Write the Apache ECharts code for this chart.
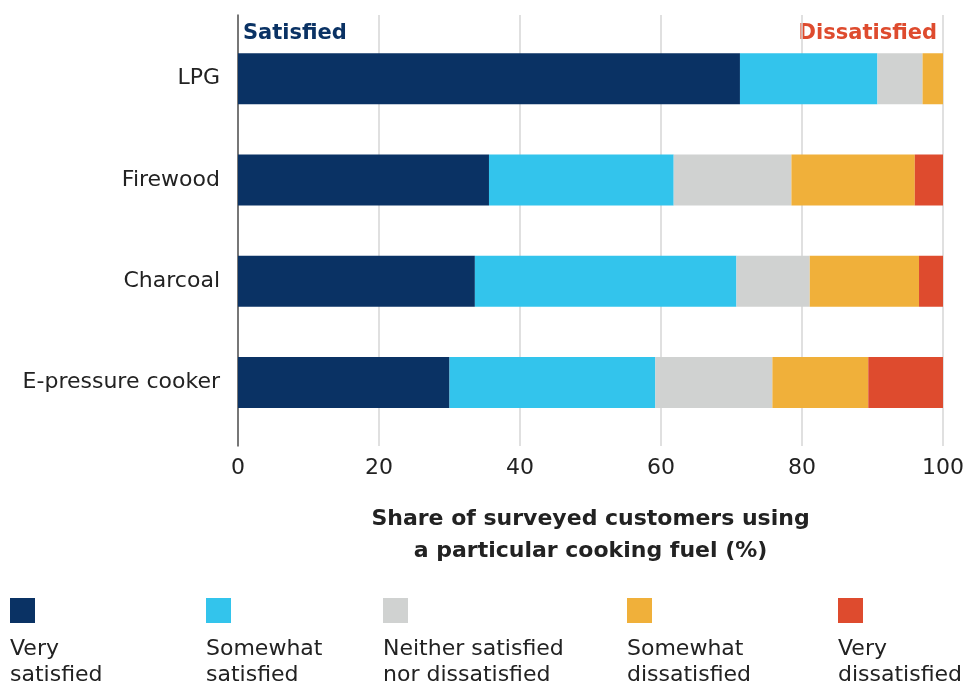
<!DOCTYPE html>
<html>
<head>
<meta charset="utf-8">
<script src="https://cdn.jsdelivr.net/npm/echarts@6/dist/echarts.min.js"></script>
<style>
html,body{margin:0;padding:0;background:#fff;}
#chart{width:973px;height:684px;}
</style>
</head>
<body>
<div id="chart"></div>
<script>
const categories = ["LPG", "Firewood", "Charcoal", "E-pressure cooker"];
const seriesNames = ["Very satisfied", "Somewhat satisfied", "Neither satisfied nor dissatisfied", "Somewhat dissatisfied", "Very dissatisfied"];
const legendLabels = ["Very\nsatisfied", "Somewhat\nsatisfied", "Neither satisfied\nnor dissatisfied", "Somewhat\ndissatisfied", "Very\ndissatisfied"];
const verySatisfied = [71.2, 35.6, 33.6, 30.0];
const somewhatSatisfied = [19.5, 26.2, 37.1, 29.2];
const neither = [6.4, 16.7, 10.4, 16.6];
const somewhatDissatisfied = [2.9, 17.5, 15.5, 13.6];
const veryDissatisfied = [0, 4.0, 3.4, 10.6];
const xTicks = [0, 20, 40, 60, 80, 100];
const colors = ["#0a3264", "#33c4ec", "#d0d2d1", "#f0b03a", "#de4b2e"];
const values = [verySatisfied, somewhatSatisfied, neither, somewhatDissatisfied, veryDissatisfied];

const FONT = "DejaVu Sans";
const chart = echarts.init(document.getElementById('chart'));

const legendX = [10, 206, 383, 627, 838];
const graphics = [
  {type:'text', left:243, top:23, style:{text:'Satisfied', font:'bold 21px ' + FONT, fill:'#0a3264'}},
  {type:'text', right:36, top:23, style:{text:'Dissatisfied', font:'bold 21px ' + FONT, fill:'#de4b2e', textAlign:'right'}}
];
seriesNames.forEach((n, i) => {
  graphics.push({type:'rect', left:legendX[i], top:598, shape:{width:25, height:25}, style:{fill:colors[i]}});
  graphics.push({type:'text', left:legendX[i], top:636, style:{text:legendLabels[i], font:'22px ' + FONT, fill:'#222', lineHeight:26}});
});

chart.setOption({
  animation:false,
  color: colors,
  grid: [
    {left:238, right:30, top:28, height:405},
    {left:238, right:30, top:15, height:431}
  ],
  xAxis: [
    {gridIndex:0, type:'value', min:0, max:100, show:false},
    {gridIndex:1, type:'value', min:0, max:100, interval:20,
     axisLine:{show:false}, axisTick:{show:false},
     splitLine:{show:true, lineStyle:{color:'#d6d6d6', width:1.5}},
     axisLabel:{fontFamily:FONT, fontSize:22, color:'#222', margin:11,
       formatter: v => xTicks.indexOf(v) >= 0 ? String(v) : ''},
     name:'Share of surveyed customers using\na particular cooking fuel (%)',
     nameLocation:'middle', nameGap:57,
     nameTextStyle:{fontFamily:FONT, fontWeight:'bold', fontSize:22, color:'#222', lineHeight:32}
    }
  ],
  yAxis: [
    {gridIndex:0, type:'category', data:categories, inverse:true,
     axisLine:{show:false}, axisTick:{show:false}, splitLine:{show:false},
     axisLabel:{fontFamily:FONT, fontSize:22, color:'#222', margin:18}},
    {gridIndex:1, type:'value', min:0, max:1, axisLabel:{show:false}, axisTick:{show:false},
     splitLine:{show:false}, axisLine:{show:true, lineStyle:{color:'#555', width:1.5}}}
  ],
  series: values.map((arr, i) => ({
    name: seriesNames[i], type:'bar', stack:'total', xAxisIndex:0, yAxisIndex:0,
    barWidth:51, data: arr, itemStyle:{color:colors[i]}, z: 3
  })),
  graphic: graphics
});
</script>
</body>
</html>
